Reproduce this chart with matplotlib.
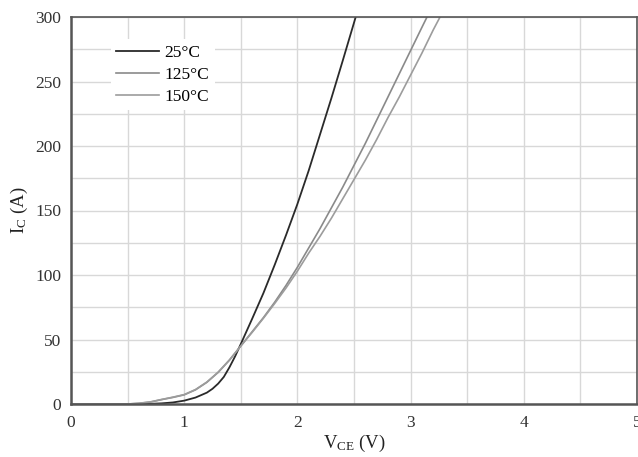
import matplotlib
matplotlib.use('Agg')
import matplotlib.pyplot as plt
from matplotlib.ticker import MultipleLocator

plt.rcParams['font.family'] = ['Liberation Serif', 'DejaVu Serif']
plt.rcParams['mathtext.fontset'] = 'custom'
plt.rcParams['mathtext.rm'] = 'Liberation Serif'

# output characteristics
vce_25 = [0.0, 0.6, 0.7, 0.8, 0.9, 1.0, 1.1, 1.2, 1.25, 1.3, 1.35, 1.4, 1.45, 1.5,
          1.6, 1.7, 1.8, 1.9, 2.0, 2.1, 2.2, 2.3, 2.4, 2.515]
ic_25 = [0.0, 0.0, 0.15, 0.5, 1.2, 2.6, 5.0, 8.8, 11.8, 15.8, 21.0, 28.5, 37.0,
         46.5, 66.0, 86.0, 108.0, 131.0, 155.0, 181.0, 209.0, 237.0, 266.0, 300.0]

vce_125 = [0.0, 0.5, 0.6, 0.7, 0.8, 0.9, 1.0, 1.1, 1.2, 1.3, 1.4, 1.5, 1.6, 1.7,
           1.8, 1.9, 2.0, 2.1, 2.2, 2.3, 2.4, 2.5, 2.6, 2.7, 2.8, 2.9, 3.0, 3.1, 3.145]
ic_125 = [0.0, 0.0, 0.5, 1.5, 3.4, 5.1, 7.1, 11.0, 16.8, 24.5, 34.0, 45.0, 56.0,
          67.0, 79.0, 92.0, 106.0, 121.0, 136.0, 152.0, 168.0, 185.0, 202.0,
          220.0, 238.0, 256.0, 274.0, 292.0, 300.0]

vce_150 = [0.0, 0.5, 0.6, 0.7, 0.8, 0.9, 1.0, 1.1, 1.2, 1.3, 1.4, 1.5, 1.6, 1.7,
           1.8, 1.9, 2.0, 2.1, 2.2, 2.3, 2.4, 2.5, 2.6, 2.7, 2.8, 2.9, 3.0, 3.1,
           3.2, 3.26]
ic_150 = [0.0, 0.0, 0.6, 1.6, 3.5, 5.3, 7.3, 11.2, 17.0, 24.7, 34.2, 45.0, 55.5,
          66.5, 78.0, 90.0, 103.0, 117.0, 130.0, 144.0, 159.0, 174.0, 189.0,
          205.0, 222.0, 238.0, 255.0, 272.0, 290.0, 300.0]

fig = plt.figure(figsize=(6.38, 4.57), dpi=100)
ax = fig.add_axes([71 / 638, 1 - 404 / 457, 566 / 638, 387 / 457])

ax.plot(vce_25, ic_25, color='#2a2a2a', lw=1.3, label='25°C')
ax.plot(vce_125, ic_125, color='#8a8a8a', lw=1.2, label='125°C')
ax.plot(vce_150, ic_150, color='#9c9c9c', lw=1.2, label='150°C')

ax.set_xlim(0, 5)
ax.set_ylim(0, 300)
ax.xaxis.set_major_locator(MultipleLocator(1))
ax.xaxis.set_minor_locator(MultipleLocator(0.5))
ax.yaxis.set_major_locator(MultipleLocator(50))
ax.yaxis.set_minor_locator(MultipleLocator(25))
ax.grid(True, which='both', color='#d8d8d8', lw=1.0)
ax.set_axisbelow(True)
ax.tick_params(which='both', length=0, labelsize=12.5, colors='#333333')
ax.tick_params(axis='x', pad=8)
ax.tick_params(axis='y', pad=7)

for s in ax.spines.values():
    s.set_color('#555555')
    s.set_linewidth(1.2)
ax.spines['left'].set_linewidth(1.8)
ax.spines['bottom'].set_linewidth(1.8)

ax.set_xlabel(r'$\mathregular{V_{CE}}$ (V)', fontsize=13.5, color='#222222', labelpad=1)
ax.set_ylabel(r'$\mathregular{I_{C}}$ (A)', fontsize=13.5, color='#222222', labelpad=4)

leg = ax.legend(loc='upper left', bbox_to_anchor=(0.055, 0.965), fontsize=12.5,
                frameon=True, fancybox=False, framealpha=1, edgecolor='none',
                handlelength=2.5, handletextpad=0.3, labelspacing=0.35,
                borderpad=0.3)

fig.savefig('out.png', dpi=100)
